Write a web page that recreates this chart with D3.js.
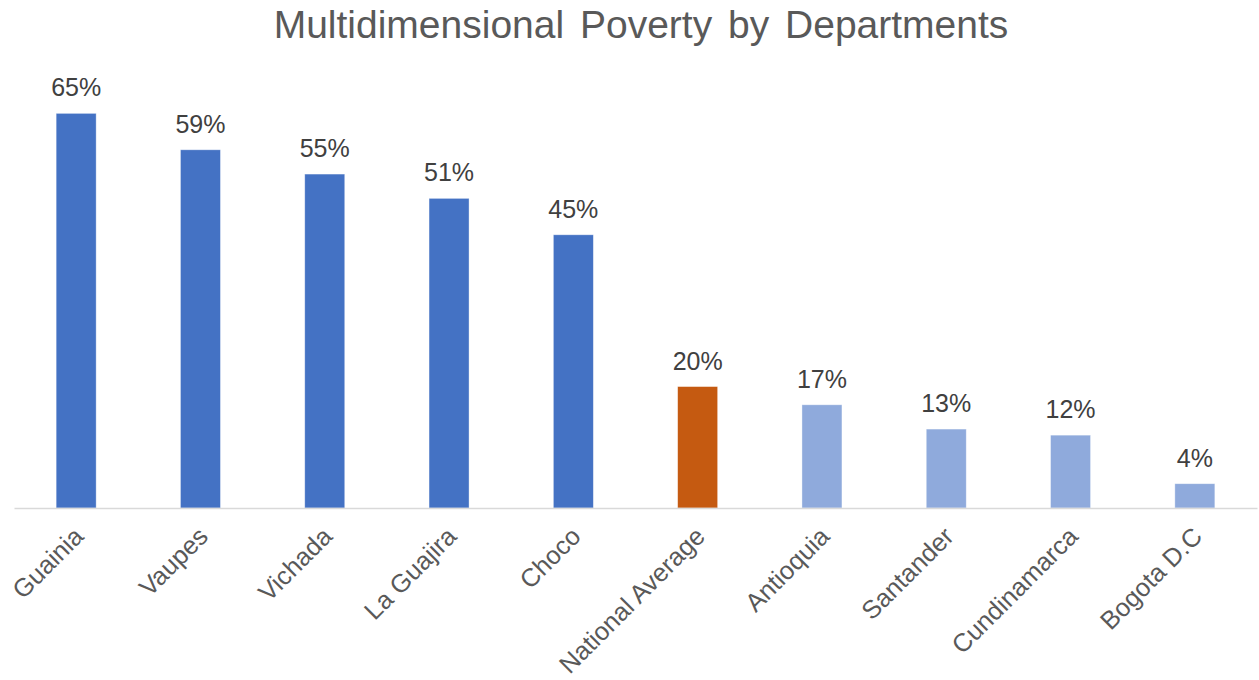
<!DOCTYPE html>
<html>
<head>
<meta charset="utf-8">
<script src="https://cdn.jsdelivr.net/npm/d3@7"></script>
<style>
  html, body { margin: 0; padding: 0; background: #fff; }
  svg { display: block; font-family: "Liberation Sans", Arial, Helvetica, sans-serif; }
</style>
</head>
<body>
<svg id="chart" width="1259" height="680"></svg>
<script>
// Multidimensional poverty rate (%) by department
const departments = ["Guainia", "Vaupes", "Vichada", "La Guajira", "Choco",
                     "National Average", "Antioquia", "Santander", "Cundinamarca", "Bogota D.C"];
const poverty = [65, 59, 55, 51, 45, 20, 17, 13, 12, 4];
const group = ["high", "high", "high", "high", "high", "avg", "low", "low", "low", "low"];

const colors = { high: "#4472C4", avg: "#C55A11", low: "#8FAADC" };

const svg = d3.select("#chart");
const left = 14, right = 1257, baseY = 508, topY = 83;

const x = d3.scaleBand().domain(departments).range([left, right]).padding(0);
const y = d3.scaleLinear().domain([0, 70]).range([baseY, topY]);
const barW = 40;

// Title
svg.append("text")
  .attr("x", 641).attr("y", 38)
  .attr("text-anchor", "middle")
  .attr("fill", "#595959")
  .style("font-size", "39px")
  .style("word-spacing", "5px")
  .text("Multidimensional Poverty by Departments");

const rows = departments.map((d, i) => ({ name: d, value: poverty[i], group: group[i] }));

// Bars
svg.append("g").selectAll("rect").data(rows).join("rect")
  .attr("x", d => x(d.name) + x.bandwidth() / 2 - barW / 2)
  .attr("width", barW)
  .attr("y", d => y(d.value))
  .attr("height", d => y(0) - y(d.value))
  .attr("fill", d => colors[d.group])
  .attr("stroke", "#ffffff")
  .attr("stroke-opacity", 0.5)
  .attr("stroke-width", 0.75);

// Value labels
svg.append("g").selectAll("text").data(rows).join("text")
  .attr("x", d => x(d.name) + x.bandwidth() / 2)
  .attr("y", d => y(d.value) - 17)
  .attr("text-anchor", "middle")
  .attr("fill", "#404040")
  .style("font-size", "25px")
  .text(d => d.value + "%");

// Category axis
const axis = svg.append("g")
  .attr("transform", `translate(0,${baseY})`)
  .call(d3.axisBottom(x).tickSize(0).tickPadding(0));
axis.select(".domain").attr("stroke", "#D9D9D9").attr("stroke-width", 1.5);
axis.selectAll("text")
  .attr("fill", "#595959")
  .style("font-size", "25.5px")
  .style("font-family", "'Liberation Sans', Arial, Helvetica, sans-serif")
  .attr("text-anchor", "end")
  .attr("dy", null)
  .attr("y", 0)
  .attr("transform", "translate(9,30) rotate(-45)");
</script>
</body>
</html>
